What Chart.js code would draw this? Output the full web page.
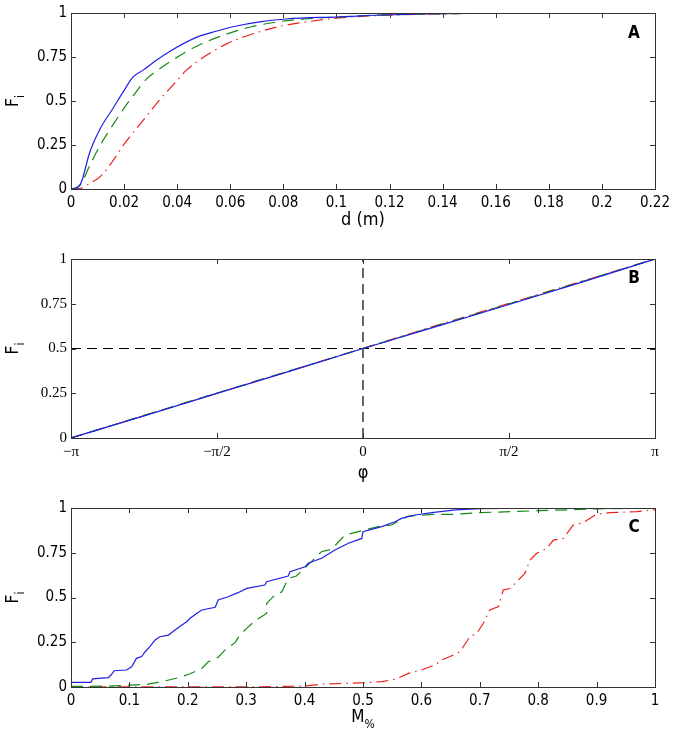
<!DOCTYPE html>
<html>
<head>
<meta charset="utf-8">
<script src="https://cdn.jsdelivr.net/npm/chart.js@4"></script>
<style>
  body { margin: 0; background: #fff; }
  .panel { position: absolute; left: 0; }
</style>
</head>
<body>
<div class="panel" style="top:0px"><canvas id="chartA" width="679" height="240"></canvas></div>
<div class="panel" style="top:240px"><canvas id="chartB" width="679" height="250"></canvas></div>
<div class="panel" style="top:490px"><canvas id="chartC" width="679" height="250"></canvas></div>
<script>
// Pannello A: distanza d (m)
const dBlue = [0, 0.002, 0.0038, 0.0071, 0.0109, 0.0159, 0.02, 0.0234, 0.027, 0.032, 0.037, 0.047, 0.055, 0.061, 0.071, 0.081, 0.101, 0.12, 0.14, 0.16, 0.22];
const fBlue = [0, 0.004, 0.035, 0.21, 0.34, 0.46, 0.56, 0.637, 0.674, 0.73, 0.78, 0.86, 0.898, 0.922, 0.95, 0.966, 0.978, 0.99, 0.996, 0.999, 1];
const dGreen = [0, 0.0034, 0.0071, 0.0109, 0.0159, 0.02, 0.0234, 0.0284, 0.0334, 0.037, 0.0434, 0.0509, 0.0584, 0.068, 0.078, 0.088, 0.101, 0.12, 0.14, 0.16, 0.22];
const fGreen = [0, 0.022, 0.134, 0.246, 0.367, 0.46, 0.529, 0.624, 0.683, 0.72, 0.78, 0.836, 0.879, 0.922, 0.95, 0.966, 0.978, 0.99, 0.996, 0.999, 1];
const dRed = [0, 0.0034, 0.0071, 0.0109, 0.0159, 0.02, 0.0234, 0.0284, 0.0334, 0.0384, 0.0434, 0.0509, 0.0584, 0.068, 0.078, 0.088, 0.101, 0.12, 0.14, 0.16, 0.22];
const fRed = [0, 0.002, 0.032, 0.069, 0.162, 0.255, 0.32, 0.413, 0.507, 0.59, 0.674, 0.758, 0.823, 0.879, 0.922, 0.948, 0.972, 0.988, 0.995, 0.999, 1];
const dTicks = [0, 0.02, 0.04, 0.06, 0.08, 0.1, 0.12, 0.14, 0.16, 0.18, 0.2, 0.22];

// Pannello B: angolo phi
const phiPts = [-3.1416, -2.3562, -1.5708, -0.7854, 0, 0.7854, 1.5708, 2.3562, 3.1416];
const fPhiBlue = [0, 0.124, 0.249, 0.374, 0.5, 0.622, 0.746, 0.871, 1];
const fPhiGreen = [0, 0.126, 0.251, 0.376, 0.5, 0.625, 0.749, 0.874, 1];
const fPhiRed = [0, 0.125, 0.25, 0.375, 0.501, 0.628, 0.752, 0.876, 1];
const phiTicks = [-3.1416, -1.5708, 0, 1.5708, 3.1416];
const phiLabels = ['\u2212\u03c0', '\u2212\u03c0/2', '0', '\u03c0/2', '\u03c0'];

// Pannello C: M%
const mBlue = [0, 0.034, 0.037, 0.064, 0.0685, 0.074, 0.095, 0.104, 0.112, 0.121, 0.127, 0.135, 0.144, 0.152, 0.167, 0.178, 0.19, 0.198, 0.204, 0.215, 0.224, 0.247, 0.252, 0.269, 0.286, 0.301, 0.332, 0.335, 0.372, 0.375, 0.401, 0.406, 0.429, 0.452, 0.475, 0.498, 0.5, 0.532, 0.555, 0.566, 0.589, 0.618, 0.658, 0.7, 0.8, 1];
const fMBlue = [0.026, 0.026, 0.045, 0.052, 0.067, 0.091, 0.095, 0.113, 0.16, 0.17, 0.197, 0.225, 0.263, 0.281, 0.29, 0.318, 0.346, 0.365, 0.384, 0.411, 0.43, 0.445, 0.486, 0.504, 0.527, 0.551, 0.57, 0.588, 0.62, 0.644, 0.672, 0.691, 0.719, 0.765, 0.803, 0.83, 0.868, 0.896, 0.923, 0.942, 0.961, 0.974, 0.989, 0.997, 1, 1];
const mGreen = [0, 0.064, 0.1, 0.13, 0.161, 0.184, 0.204, 0.224, 0.235, 0.252, 0.264, 0.281, 0.289, 0.304, 0.315, 0.335, 0.335, 0.349, 0.361, 0.372, 0.386, 0.406, 0.429, 0.446, 0.464, 0.469, 0.503, 0.526, 0.549, 0.569, 0.578, 0.618, 0.658, 0.7, 0.8, 0.9, 1];
const fMGreen = [0.003, 0.005, 0.01, 0.015, 0.034, 0.052, 0.074, 0.104, 0.141, 0.166, 0.207, 0.248, 0.29, 0.337, 0.37, 0.411, 0.467, 0.514, 0.532, 0.607, 0.62, 0.682, 0.756, 0.769, 0.831, 0.849, 0.877, 0.896, 0.905, 0.942, 0.955, 0.964, 0.965, 0.974, 0.985, 0.995, 1];
const mRed = [0, 0.315, 0.4, 0.435, 0.469, 0.503, 0.532, 0.555, 0.578, 0.6, 0.623, 0.635, 0.649, 0.666, 0.683, 0.695, 0.706, 0.717, 0.732, 0.74, 0.752, 0.769, 0.777, 0.786, 0.797, 0.815, 0.826, 0.843, 0.86, 0.877, 0.9, 0.923, 0.969, 1];
const fMRed = [0, 0.001, 0.005, 0.017, 0.02, 0.024, 0.03, 0.043, 0.076, 0.095, 0.123, 0.151, 0.17, 0.197, 0.281, 0.3, 0.356, 0.43, 0.449, 0.542, 0.55, 0.607, 0.635, 0.709, 0.746, 0.775, 0.821, 0.83, 0.905, 0.918, 0.966, 0.974, 0.98, 0.99];
const mTicks = [0, 0.1, 0.2, 0.3, 0.4, 0.5, 0.6, 0.7, 0.8, 0.9, 1];
const fTicks = [0, 0.25, 0.5, 0.75, 1];

const BLUE = '#1f1fe6';
const GREEN = '#138a13';
const RED = '#ec2020';
const DASH = [12, 7];
const DASHDOT = [12, 5, 1.5, 5];
const SANS = "'DejaVu Sans Condensed', 'DejaVu Sans', sans-serif";
const SERIF = "'Liberation Serif', 'DejaVu Serif', serif";

function pts(xs, ys) {
  return xs.map((x, i) => ({ x: x, y: ys[i] }));
}

function fmt(v) {
  return String(Number(v.toFixed(3)));
}

// Riquadro con tacche verso l'interno su tutti e quattro i lati
const boxPlugin = {
  id: 'box',
  afterDraw(chart, args, opts) {
    const ctx = chart.ctx;
    const a = chart.chartArea;
    const xs = chart.scales.x, ys = chart.scales.y;
    ctx.save();
    ctx.strokeStyle = '#333';
    ctx.lineWidth = 1;
    ctx.strokeRect(Math.round(a.left) + 0.5, Math.round(a.top) + 0.5, Math.round(a.right - a.left), Math.round(a.bottom - a.top));
    ctx.beginPath();
    xs.ticks.forEach(t => {
      const px = Math.round(xs.getPixelForValue(t.value)) + 0.5;
      ctx.moveTo(px, a.bottom); ctx.lineTo(px, a.bottom - 5);
      ctx.moveTo(px, a.top); ctx.lineTo(px, a.top + 5);
    });
    ys.ticks.forEach(t => {
      const py = Math.round(ys.getPixelForValue(t.value)) + 0.5;
      ctx.moveTo(a.left, py); ctx.lineTo(a.left + 5, py);
      ctx.moveTo(a.right, py); ctx.lineTo(a.right - 5, py);
    });
    ctx.stroke();

    // lettera del pannello
    ctx.fillStyle = '#000';
    ctx.font = 'bold 17px ' + SANS;
    ctx.textAlign = 'center';
    ctx.textBaseline = 'middle';
    ctx.fillText(opts.letter, a.right - 21, a.top + opts.letterDy);

    // etichetta asse y con pedice
    drawSub(ctx, 'F', 'i', 18, (a.top + a.bottom) / 2, true);
    if (opts.xMain) {
      drawSub(ctx, opts.xMain, opts.xSub, (a.left + a.right) / 2, opts.xLabelY, false);
    }
    ctx.restore();
  }
};

function drawSub(ctx, main, sub, x, y, rotated) {
  ctx.save();
  ctx.fillStyle = '#000';
  ctx.textBaseline = 'alphabetic';
  ctx.textAlign = 'left';
  ctx.font = '17px ' + SANS;
  const wMain = ctx.measureText(main).width;
  ctx.font = '12px ' + SANS;
  const wSub = ctx.measureText(sub).width;
  const total = wMain + wSub;
  ctx.translate(x, y);
  if (rotated) ctx.rotate(-Math.PI / 2);
  ctx.font = '17px ' + SANS;
  ctx.fillText(main, -total / 2, 0);
  ctx.font = '12px ' + SANS;
  ctx.fillText(sub, -total / 2 + wMain, 6);
  ctx.restore();
}

function line(label, data, color, dash) {
  return {
    label: label,
    data: data,
    borderColor: color,
    backgroundColor: color,
    borderWidth: 1.2,
    borderDash: dash,
    pointRadius: 0,
    fill: false,
    tension: 0
  };
}

function makeChart(id, datasets, cfg) {
  const ctx = document.getElementById(id).getContext('2d');
  return new Chart(ctx, {
    type: 'line',
    data: { datasets: datasets },
    options: {
      responsive: false,
      animation: false,
      parsing: true,
      layout: { padding: { left: 0, right: 24, top: cfg.top, bottom: 0 } },
      plugins: {
        legend: { display: false },
        tooltip: { enabled: false },
        box: { letter: cfg.letter, letterDy: cfg.letterDy, xMain: cfg.xMain, xSub: cfg.xSub, xLabelY: cfg.xLabelY }
      },
      scales: {
        x: {
          type: 'linear',
          min: cfg.xMin,
          max: cfg.xMax,
          grid: { display: false, drawTicks: false },
          border: { display: false },
          afterBuildTicks: s => { s.ticks = cfg.xTicks.map(v => ({ value: v })); },
          afterFit: s => { s.height = cfg.xHeight; },
          ticks: {
            autoSkip: false,
            maxRotation: 0,
            padding: 5,
            color: '#000',
            font: { family: cfg.tickFont, size: 15 },
            callback: cfg.xFmt
          },
          title: cfg.xTitle ? {
            display: true,
            text: cfg.xTitle,
            color: '#000',
            font: { family: SANS, size: 18 },
            padding: { top: 0, bottom: cfg.xTitlePad }
          } : { display: false }
        },
        y: {
          type: 'linear',
          min: 0,
          max: 1,
          grid: { display: false, drawTicks: false },
          border: { display: false },
          afterBuildTicks: s => { s.ticks = fTicks.map(v => ({ value: v })); },
          afterFit: s => { s.width = 71; },
          ticks: {
            padding: 4,
            color: '#000',
            font: { family: cfg.tickFont, size: 15 },
            callback: v => fmt(v)
          }
        }
      }
    },
    plugins: [boxPlugin]
  });
}

makeChart('chartA', [
  Object.assign(line('blue', pts(dBlue, fBlue), BLUE, []), { cubicInterpolationMode: 'monotone' }),
  Object.assign(line('green', pts(dGreen, fGreen), GREEN, DASH), { cubicInterpolationMode: 'monotone' }),
  Object.assign(line('red', pts(dRed, fRed), RED, DASHDOT), { cubicInterpolationMode: 'monotone' })
], {
  top: 10, letter: 'A', letterDy: 21, xMin: 0, xMax: 0.22, xTicks: dTicks, xHeight: 51,
  tickFont: SANS, xFmt: v => fmt(v), xTitle: 'd (m)', xTitlePad: 9
});

makeChart('chartB', [
  line('blue', pts(phiPts, fPhiBlue), BLUE, []),
  line('green', pts(phiPts, fPhiGreen), GREEN, DASH),
  line('red', pts(phiPts, fPhiRed), RED, DASHDOT),
  line('h', pts([-3.1416, 3.1416], [0.5, 0.5]), '#000', [10, 6]),
  line('v', pts([0, 0], [0, 1]), '#000', [10, 6])
], {
  top: 19, letter: 'B', letterDy: 20, xMin: -3.1416, xMax: 3.1416, xTicks: phiTicks, xHeight: 52,
  tickFont: SERIF, xFmt: (v, i) => phiLabels[i], xTitle: '\u03c6', xTitlePad: 6
});

makeChart('chartC', [
  line('blue', pts(mBlue, fMBlue), BLUE, []),
  line('green', pts(mGreen, fMGreen), GREEN, DASH),
  line('red', pts(mRed, fMRed), RED, DASHDOT)
], {
  top: 18, letter: 'C', letterDy: 20, xMin: 0, xMax: 1, xTicks: mTicks, xHeight: 53,
  tickFont: SANS, xFmt: v => fmt(v), xTitle: null, xMain: 'M', xSub: '%', xLabelY: 232
});
</script>
</body>
</html>
